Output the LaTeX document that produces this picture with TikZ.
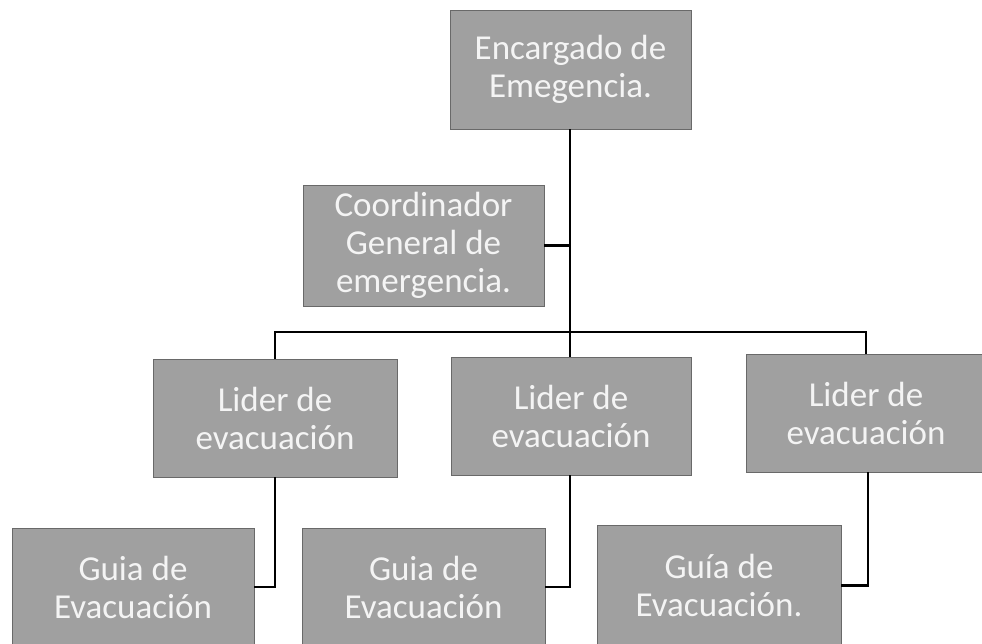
\documentclass[tikz,border=0pt]{standalone}
\usepackage{fontspec}
\setmainfont{Carlito}
\definecolor{boxfill}{RGB}{160,160,160}
\definecolor{boxline}{RGB}{105,105,105}
\definecolor{boxtext}{RGB}{244,244,244}
\begin{document}
\begin{tikzpicture}[x=1pt,y=-1pt,
  orgbox/.style={draw=boxline, line width=0.8pt, fill=boxfill, text=boxtext,
    inner sep=0pt, align=center, font=\fontsize{35}{38}\selectfont},
  link/.style={draw=black, line width=2.6pt}]
\useasboundingbox (0,0) rectangle (982,643);
\node[orgbox, minimum width=241pt, minimum height=119pt] (top) at (570.5,69.5) {Encargado de\\Emegencia.};
\node[orgbox, minimum width=241pt, minimum height=121pt] (coord) at (423.5,245.5) {Coordinador\\General de\\emergencia.};
\node[orgbox, minimum width=244pt, minimum height=118pt] (l1) at (275,418) {Lider de\\evacuación};
\node[orgbox, minimum width=240pt, minimum height=118pt] (l2) at (571,416) {Lider de\\evacuación};
\node[orgbox, minimum width=240pt, minimum height=118pt] (l3) at (866,413) {Lider de\\evacuación};
\node[orgbox, minimum width=242pt, minimum height=118pt] (g1) at (133,587) {Guia de\\Evacuación};
\node[orgbox, minimum width=243pt, minimum height=118pt] (g2) at (423.5,587) {Guia de\\Evacuación};
\node[orgbox, minimum width=244pt, minimum height=121pt] (g3) at (719,585.5) {Guía de\\Evacuación.};
\coordinate (bar) at (570,332);
\draw[link] (top.south -| bar) -- (bar);
\draw[link] (coord.east) -- (coord.east -| bar);
\draw[link] (l1.north) |- (bar) -| (l3.north);
\draw[link] (l2.north -| bar) -- (bar);
\draw[link] (l1.south) |- (g1.east);
\draw[link] (l2.south -| bar) |- (g2.east);
\draw[link] ([xshift=2pt]l3.south) |- (g3.east);
\end{tikzpicture}
\end{document}
